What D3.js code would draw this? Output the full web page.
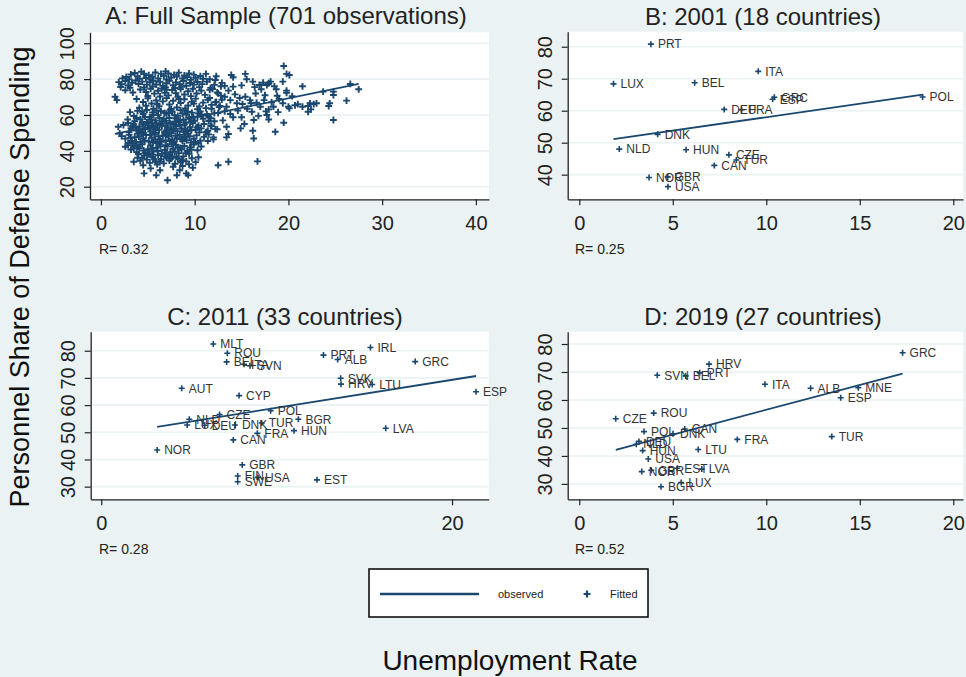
<!DOCTYPE html>
<html>
<head>
<meta charset="utf-8">
<script src="https://cdn.jsdelivr.net/npm/d3@7"></script>
<style>
html, body { margin: 0; padding: 0; background: #eaf2f3; }
svg { display: block; font-family: "Liberation Sans", Arial, Helvetica, sans-serif; }
</style>
</head>
<body>
<svg id="chart" width="966" height="677"></svg>
<script>
// ---------- Panel A: full sample, [unemployment rate, personnel share] ----------
const fullSampleCore = [
  // upper band
  [3.2,82.6],[3.6,83.4],[4.3,84.1],[4.6,83.0],[5.1,82.2],[5.8,83.7],[6.4,82.9],[6.9,84.3],[7.2,83.1],[7.8,82.4],
  [8.3,83.6],[8.9,82.0],[9.4,83.2],[9.9,82.5],[10.6,81.7],[11.2,82.9],[2.7,81.2],[3.9,81.5],[4.8,80.6],[5.5,81.3],
  [6.1,80.4],[6.7,81.8],[7.5,80.9],[8.1,81.4],[8.7,80.3],[9.2,81.1],[10.1,80.7],[10.9,80.2],[12.3,81.6],[2.3,80.4],
  [3.0,79.9],[4.1,80.2],[5.3,79.7],[7.0,79.8],[9.6,79.6],[11.6,79.9],
  [1.9,78.3],[2.2,77.1],[2.6,78.9],[2.9,76.4],[3.3,78.0],[3.7,79.2],[4.0,77.3],[4.4,78.6],[4.9,76.9],[5.2,78.3],
  [5.6,79.1],[5.9,77.0],[6.3,78.5],[6.6,76.2],[7.0,77.7],[7.3,79.0],[7.7,76.6],[8.0,78.2],[8.4,77.1],[8.8,78.9],
  [9.1,76.3],[9.5,77.8],[9.9,76.9],[10.3,78.4],[10.8,77.2],[11.3,78.6],[12.1,76.8],[12.9,77.9],[2.1,75.6],[3.1,75.2],
  [4.6,75.4],[5.5,75.9],[6.9,75.3],[7.9,75.0],[8.6,75.7],[10.5,75.5],[11.7,75.1],[13.2,76.2],
  // middle-upper
  [4.2,74.2],[4.8,72.8],[5.3,74.6],[5.7,71.9],[6.1,73.5],[6.5,74.8],[6.8,72.3],[7.2,70.9],[7.6,73.9],[8.0,72.1],
  [8.5,74.4],[8.9,71.4],[9.3,73.2],[9.8,74.6],[10.2,72.0],[10.7,73.6],[11.1,71.2],[11.6,74.0],[12.4,72.6],[5.0,70.6],
  [6.3,70.3],[8.2,70.2],[9.6,70.5],[2.6,73.8],[3.4,72.5],[1.5,70.2],[12.8,70.8],[7.0,74.0],
  [3.8,68.9],[4.5,67.2],[5.0,69.3],[5.4,66.4],[5.9,68.1],[6.2,64.9],[6.6,67.6],[7.0,69.4],[7.3,65.8],[7.7,67.9],
  [8.1,64.2],[8.5,66.7],[8.9,68.8],[9.3,65.3],[9.7,67.4],[10.1,69.1],[10.5,64.7],[10.9,66.9],[11.4,68.4],[11.8,65.6],
  [12.3,67.3],[4.1,64.0],[4.8,65.1],[5.6,63.5],[7.5,63.3],[9.0,63.6],[10.3,63.2],[11.2,63.8],[12.6,64.4],[1.7,68.3],
  [6.0,66.0],[8.3,68.9],[9.9,66.3],
  // dense middle
  [3.1,61.6],[3.5,59.4],[3.9,62.3],[4.2,57.6],[4.5,60.5],[4.9,62.8],[5.2,58.7],[5.5,61.4],[5.8,56.9],[6.1,59.9],
  [6.4,62.1],[6.7,57.8],[7.0,60.7],[7.3,58.3],[7.6,61.9],[7.9,56.4],[8.2,59.5],[8.5,62.6],[8.8,57.3],[9.1,60.2],
  [9.4,58.6],[9.7,61.3],[10.0,56.8],[10.3,59.1],[10.6,62.0],[10.9,57.9],[11.3,60.4],[11.7,58.2],[12.1,61.0],[3.6,56.5],
  [4.7,58.9],[5.6,60.0],[6.5,56.2],[7.4,62.9],[8.0,58.0],[8.7,60.8],[9.6,56.3],[10.4,60.9],[11.5,56.6],[2.85,57.5],
  [5.0,56.0],[6.8,61.2],[9.0,62.4],
  [3.8,58.3],[4.4,61.8],[5.35,57.5],[5.95,62.4],[6.25,58.4],[6.95,56.7],[7.25,61.1],[7.85,59.8],[8.45,57.2],[9.25,61.8],
  [9.85,58.9],[10.75,60.0],
  [2.4,54.4],[2.9,55.5],[3.2,52.6],[3.5,54.9],[3.8,51.3],[4.1,53.6],[4.4,55.8],[4.7,52.0],[5.0,54.2],[5.3,50.8],
  [5.6,53.1],[5.9,55.4],[6.2,51.7],[6.5,54.0],[6.8,50.5],[7.1,52.8],[7.4,55.1],[7.7,51.4],[8.0,53.7],[8.3,55.9],
  [8.6,52.3],[8.9,54.6],[9.2,50.9],[9.5,53.2],[9.8,55.5],[10.1,51.8],[10.4,54.1],[10.7,52.5],[11.0,55.0],[11.4,51.2],
  [11.8,53.8],[12.2,52.1],[1.85,53.4],[3.0,50.4],[4.3,50.2],[5.8,50.3],[7.3,50.1],[8.8,50.6],[10.5,50.3],[6.0,53.0],
  [7.8,54.7],[9.0,52.0],[4.9,55.9],[3.7,53.0],[11.2,50.3],
  [3.35,53.7],[4.25,51.0],[4.55,54.8],[5.15,52.6],[5.75,51.9],[6.35,55.0],[6.95,53.9],[7.55,52.2],[8.15,51.0],[8.45,54.3],
  [9.05,55.7],[9.65,51.5],[10.25,53.1],[7.0,51.3],[5.45,55.2],
  // lower block
  [2.0,49.7],[2.2,48.2],[2.6,46.8],[3.0,48.9],[3.3,45.5],[3.6,47.6],[3.9,49.6],[4.2,44.8],[4.5,46.9],[4.8,48.8],
  [5.1,45.2],[5.4,47.3],[5.7,49.4],[6.0,44.4],[6.3,46.5],[6.6,48.5],[6.9,45.8],[7.2,47.9],[7.5,49.8],[7.8,44.9],
  [8.1,47.0],[8.4,48.9],[8.7,45.4],[9.0,47.5],[9.3,49.5],[9.6,44.6],[9.9,46.7],[10.2,48.6],[10.6,45.6],[11.0,47.8],
  [11.5,49.2],[12.0,46.4],[3.4,44.1],[5.8,46.2],[7.6,46.0],[8.9,48.0],[10.4,44.2],[4.4,49.9],[6.8,49.7],[2.9,44.4],
  [3.15,47.2],[3.75,45.0],[4.05,48.0],[4.65,45.6],[5.25,49.0],[5.55,44.9],[6.15,48.1],[6.45,45.0],[7.05,49.0],[7.35,45.3],
  [7.95,48.4],[8.55,46.5],[9.15,45.9],[9.45,48.1],[10.05,45.1],
  [2.6,42.3],[2.9,43.2],[3.2,40.7],[3.5,42.8],[3.8,39.3],[4.1,41.5],[4.4,43.6],[4.7,38.9],[5.0,40.9],[5.3,42.9],
  [5.6,39.6],[5.9,41.8],[6.2,43.9],[6.5,38.4],[6.8,40.5],[7.1,42.5],[7.4,39.2],[7.7,41.2],[8.0,43.3],[8.3,38.7],
  [8.6,40.8],[8.9,42.7],[9.2,39.8],[9.5,41.9],[9.9,43.5],[10.3,40.3],[10.7,42.4],[4.0,38.2],[5.5,37.9],[6.9,43.1],
  [8.2,42.0],[9.4,38.3],[7.3,37.8],[3.5,41.4],
  [3.95,42.4],[4.55,40.2],[5.15,38.5],[5.45,41.3],[6.05,39.9],[6.35,42.5],[6.95,38.9],[7.55,43.7],[7.85,39.6],[8.45,41.6],
  [9.05,38.7],[9.65,40.6],
  [3.5,33.9],[3.9,36.1],[4.2,34.5],[4.6,37.3],[4.9,35.1],[5.2,33.3],[5.5,36.6],[5.8,34.2],[6.1,37.5],[6.4,35.4],
  [6.7,33.0],[7.0,36.3],[7.3,34.6],[7.6,37.0],[7.9,32.8],[8.2,35.7],[8.5,33.6],[8.8,36.9],[9.1,34.1],[9.4,32.5],
  [9.7,35.9],[10.1,33.7],[10.4,36.4],[4.5,32.0],[6.0,32.4],[7.7,31.1],[8.7,31.5],
  [4.4,35.9],[5.0,37.8],[5.65,35.3],[6.25,33.9],[6.85,37.0],[7.45,35.6],[8.05,36.6],[8.65,34.8],
  [4.6,27.4],[5.9,26.4],[7.1,23.6],[8.1,26.4],[9.1,27.4],[9.3,26.4],[6.3,29.2],[8.4,29.2],[5.3,30.2],[9.8,30.6]
];

// Panel A: observations outside the core
const fullSampleSparse = [
  [19.5, 87.3], [19.8, 82.9], [20.1, 82.3], [19.4, 78.6], [19.8, 73.6], [19.8, 72.4],
  [20.0, 64.6], [20.1, 63.7], [19.5, 55.7], [18.6, 50.6], [20.7, 65.4], [21.5, 64.6],
  [22.1, 65.0], [21.5, 76.0], [22.3, 66.5], [22.4, 63.1], [22.7, 66.1], [22.1, 61.8],
  [23.7, 73.0], [24.4, 66.5], [24.3, 65.0], [24.8, 73.0], [24.8, 71.1], [24.8, 57.2],
  [26.2, 68.0], [26.6, 77.3], [27.5, 74.3], [19.4, 66.5], [18.4, 64.6], [18.9, 61.6],
  [15.4, 82.9], [15.55, 79.9], [16.2, 78.6], [16.9, 76.7], [17.1, 74.3], [17.3, 78.0],
  [17.7, 76.7], [17.9, 77.7], [18.1, 78.6], [15.4, 70.2], [15.9, 68.3], [15.1, 66.1],
  [16.0, 66.5], [16.6, 66.8], [17.4, 68.3], [17.0, 64.6], [17.9, 63.1], [16.1, 61.8],
  [15.0, 58.7], [16.3, 57.2], [17.7, 60.0], [17.9, 57.5], [16.2, 51.2], [16.3, 46.9],
  [16.7, 34.1], [13.9, 82.3], [14.1, 81.0], [14.1, 75.8], [13.6, 73.6], [13.8, 68.3],
  [14.5, 66.5], [13.2, 70.2], [13.4, 64.6], [13.8, 60.5], [14.1, 58.7], [13.4, 53.4],
  [13.6, 49.4], [13.4, 47.5], [13.6, 33.9], [12.5, 32.0], [18.8, 70.7], [18.7, 74.3],
  [12.2, 79.5], [12.8, 76.0], [11.9, 74.5], [12.5, 72.0], [11.6, 69.5], [12.2, 67.0],
  [12.9, 68.5], [11.8, 63.5], [12.5, 61.0], [11.5, 59.0], [12.1, 56.5], [11.7, 54.0],
  [12.4, 52.0], [11.3, 50.5], [12.0, 47.5], [11.4, 45.5], [14.8, 69.5], [15.0, 76.5],
  [14.6, 62.5], [15.3, 55.0], [14.9, 52.5], [16.5, 72.0], [17.5, 71.0], [18.2, 67.0],
  [16.8, 59.5], [13.0, 57.0], [13.2, 62.0], [12.7, 65.0], [15.6, 63.5], [14.3, 71.5],
  [16.4, 75.5], [18.5, 76.0], [17.6, 62.0], [19.0, 69.0], [21.0, 66.0], [23.0, 66.5],
  [20.4, 70.5]
];

// ---------- Panel B: 2001 ----------
const countries2001 = ["PRT","ITA","LUX","BEL","GRC","ESP","POL","DEU","FRA","DNK","NLD","HUN","CZE","TUR","CAN","NOR","GBR","USA"];
const unemp2001 = [3.83, 9.57, 1.83, 6.17, 10.43, 10.34, 18.36, 7.75, 8.68, 4.19, 2.14, 5.71, 8.00, 8.40, 7.22, 3.73, 4.73, 4.74];
const share2001 = [80.8, 72.3, 68.4, 68.75, 64.2, 63.6, 64.3, 60.4, 60.3, 52.6, 48.0, 47.8, 46.2, 44.6, 42.9, 39.1, 39.3, 36.25];

// ---------- Panel C: 2011 ----------
const countries2011 = ["MLT","ROU","BEL","ITA","SVN","AUT","CYP","CZE","NLD","LUX","DEU","DNK","TUR","FRA","POL","BGR","HUN","CAN","NOR","GBR","FIN","SWE","USA","EST","LVA","ESP","GRC","IRL","PRT","ALB","SVK","HRV","LTU"];
const unemp2011 = [6.39, 7.19, 7.15, 8.14, 8.48, 4.59, 7.86, 6.75, 5.02, 4.90, 5.90, 7.62, 9.15, 8.90, 9.66, 11.24, 10.99, 7.53, 3.19, 8.04, 7.78, 7.78, 8.94, 12.30, 16.22, 21.37, 17.90, 15.35, 12.67, 13.48, 13.65, 13.67, 15.45];
const share2011 = [82.5, 79.1, 75.9, 75.0, 74.5, 66.2, 63.5, 56.5, 54.8, 52.7, 52.6, 52.7, 53.4, 49.6, 57.9, 54.8, 50.6, 47.2, 43.5, 38.0, 33.9, 31.8, 33.4, 32.5, 51.5, 64.9, 76.0, 81.2, 78.4, 76.8, 69.9, 67.7, 67.6];

// ---------- Panel D: 2019 ----------
const countries2019 = ["GRC","HRV","PRT","SVN","BEL","ITA","ALB","MNE","ESP","TUR","FRA","CZE","ROU","POL","CAN","DNK","DEU","NLD","HUN","USA","LTU","NOR","GBR","EST","LVA","LUX","BGR"];
const unemp2019 = [17.29, 6.94, 6.44, 4.17, 5.69, 9.93, 12.37, 14.92, 13.98, 13.50, 8.45, 1.95, 3.98, 3.46, 5.64, 5.01, 3.19, 3.05, 3.39, 3.69, 6.36, 3.34, 3.85, 5.24, 6.55, 5.45, 4.37];
const share2019 = [76.9, 72.8, 69.7, 68.85, 68.6, 65.6, 64.2, 64.4, 60.8, 46.9, 45.9, 53.3, 55.3, 48.7, 49.6, 47.9, 45.2, 44.2, 41.9, 38.9, 42.3, 34.4, 34.9, 35.6, 35.3, 30.5, 29.0];

// Linear fits (intercept, slope) and correlations, panels A-D
const fitIntercept = [47.9, 49.56, 48.74, 38.71];
const fitSlope = [1.07, 0.841, 1.028, 1.778];
const rValues = ["0.32", "0.25", "0.28", "0.52"];

// Titles and ticks
const panelTitles = ["A: Full Sample (701 observations)", "B: 2001 (18 countries)", "C: 2011 (33 countries)", "D: 2019 (27 countries)"];
const xTicks = [[0, 10, 20, 30, 40], [0, 5, 10, 15, 20], [0, 20], [0, 5, 10, 15, 20]];
const yTicks = [[20, 40, 60, 80, 100], [40, 50, 60, 70, 80], [30, 40, 50, 60, 70, 80], [30, 40, 50, 60, 70, 80]];

// ---------- assemble point sets ----------
const pointsA = fullSampleCore.concat(fullSampleSparse).map(([u, s]) => ({ u, s, name: null }));
const zipPts = (names, us, ss) => names.map((n, i) => ({ name: n, u: us[i], s: ss[i] }));
const pointsB = zipPts(countries2001, unemp2001, share2001);
const pointsC = zipPts(countries2011, unemp2011, share2011);
const pointsD = zipPts(countries2019, unemp2019, share2019);

// ---------- layout ----------
const NAVY = "#1a476f";
const BG = "#eaf2f3";
const INK = "#222";

const panels = [
  { pts: pointsA, left: 90, right: 489, top: 32.3, bottom: 199.3, xDom: [-1.17, 41.4], yDom: [12.97, 106.1], titleX: 286, titleY: 24, rX: 99, rY: 254 },
  { pts: pointsB, left: 567.7, right: 963, top: 31.7, bottom: 199.3, xDom: [-0.62, 20.52], yDom: [32.3, 84.7], titleX: 763, titleY: 25, rX: 575, rY: 254 },
  { pts: pointsC, left: 90.7, right: 488.7, top: 331.7, bottom: 499.3, xDom: [-0.60, 22.09], yDom: [25.35, 87.0], titleX: 285, titleY: 325, rX: 99, rY: 554 },
  { pts: pointsD, left: 567.7, right: 963, top: 331.7, bottom: 499.3, xDom: [-0.62, 20.52], yDom: [24.5, 84.4], titleX: 763, titleY: 325, rX: 575, rY: 554 }
];

const svg = d3.select("#chart");
svg.append("rect").attr("width", 966).attr("height", 677).attr("fill", BG);

const plusPath = (r) => `M${-r},0H${r}M0,${-r}V${r}`;

panels.forEach((p, i) => {
  const g = svg.append("g");
  const x = d3.scaleLinear().domain(p.xDom).range([p.left, p.right]);
  const y = d3.scaleLinear().domain(p.yDom).range([p.bottom, p.top]);

  // plot region
  g.append("rect")
    .attr("x", p.left).attr("y", p.top)
    .attr("width", p.right - p.left).attr("height", p.bottom - p.top)
    .attr("fill", "#fff");

  // horizontal grid
  g.selectAll("line.grid").data(yTicks[i]).join("line")
    .attr("class", "grid")
    .attr("x1", p.left).attr("x2", p.right)
    .attr("y1", d => y(d)).attr("y2", d => y(d))
    .attr("stroke", BG).attr("stroke-width", 1.6);

  // axes
  const xa = g.append("g").attr("transform", `translate(0,${p.bottom})`)
    .call(d3.axisBottom(x).tickValues(xTicks[i]).tickSize(6).tickSizeOuter(0).tickFormat(d3.format("d")));
  const ya = g.append("g").attr("transform", `translate(${p.left},0)`)
    .call(d3.axisLeft(y).tickValues(yTicks[i]).tickSize(6).tickSizeOuter(0).tickFormat(d3.format("d")));
  [xa, ya].forEach(a => {
    a.select(".domain").attr("stroke", INK).attr("stroke-width", 1.3);
    a.selectAll(".tick line").attr("stroke", INK).attr("stroke-width", 1.2);
    a.selectAll(".tick text").attr("fill", INK).attr("font-size", 20)
      .attr("font-family", "Liberation Sans, Arial, sans-serif");
  });
  xa.selectAll(".tick text").attr("y", 30.5).attr("dy", 0);
  ya.selectAll(".tick text")
    .attr("x", 0).attr("y", 0).attr("dy", 0)
    .attr("text-anchor", "middle")
    .attr("transform", "translate(-16,0) rotate(-90)");

  // fitted line across the observed range
  const [uMin, uMax] = d3.extent(p.pts, d => d.u);
  const fit = [uMin, uMax].map(u => ({ u, s: fitIntercept[i] + fitSlope[i] * u }));

  // markers
  g.selectAll("path.pt").data(p.pts).join("path")
    .attr("class", "pt")
    .attr("transform", d => `translate(${x(d.u)},${y(d.s)})`)
    .attr("d", plusPath(i === 0 ? 3.4 : 3.0))
    .attr("stroke", NAVY).attr("stroke-width", i === 0 ? 1.9 : 1.6).attr("fill", "none");

  g.append("path")
    .attr("d", d3.line().x(d => x(d.u)).y(d => y(d.s))(fit))
    .attr("fill", "none").attr("stroke", NAVY).attr("stroke-width", 1.8);

  // country labels
  g.selectAll("text.lab").data(p.pts.filter(d => d.name)).join("text")
    .attr("class", "lab")
    .attr("x", d => x(d.u) + 7).attr("y", d => y(d.s))
    .attr("dy", "0.36em")
    .attr("font-size", 12).attr("fill", "#333")
    .text(d => d.name);

  // title
  svg.append("text").attr("x", p.titleX).attr("y", p.titleY)
    .attr("text-anchor", "middle").attr("font-size", 24).attr("fill", INK)
    .text(panelTitles[i]);

  // correlation note
  svg.append("text").attr("x", p.rX).attr("y", p.rY)
    .attr("font-size", 14).attr("fill", INK)
    .text("R= " + rValues[i]);
});

// legend
const lg = svg.append("g");
lg.append("rect").attr("x", 369).attr("y", 569).attr("width", 279).attr("height", 48)
  .attr("fill", "#fff").attr("stroke", "#111").attr("stroke-width", 1.6);
lg.append("line").attr("x1", 380).attr("x2", 479).attr("y1", 594).attr("y2", 594)
  .attr("stroke", NAVY).attr("stroke-width", 2.6);
lg.append("text").attr("x", 498).attr("y", 598).attr("font-size", 11).attr("fill", INK).text("observed");
lg.append("path").attr("transform", "translate(587,594)").attr("d", plusPath(3.4))
  .attr("stroke", NAVY).attr("stroke-width", 2.2).attr("fill", "none");
lg.append("text").attr("x", 610).attr("y", 598).attr("font-size", 11).attr("fill", INK).text("Fitted");

// axis titles
svg.append("text").attr("x", 510).attr("y", 670).attr("text-anchor", "middle")
  .attr("font-size", 28).attr("fill", "#111").text("Unemployment Rate");
svg.append("text").attr("transform", "translate(29,277) rotate(-90)").attr("text-anchor", "middle")
  .attr("font-size", 27).attr("fill", "#111").text("Personnel Share of Defense Spending");
</script>
</body>
</html>
